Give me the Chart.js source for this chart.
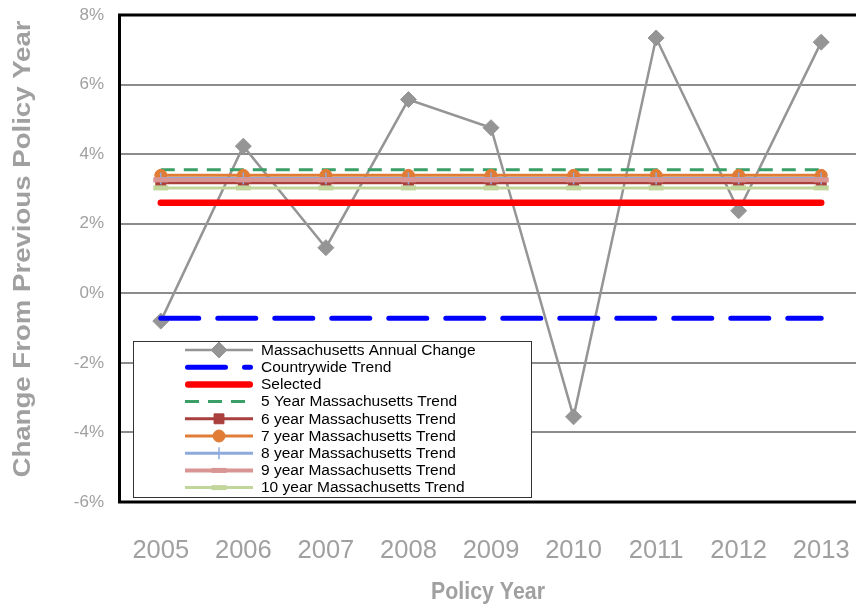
<!DOCTYPE html>
<html>
<head>
<meta charset="utf-8">
<title>Massachusetts Annual Change vs Trends</title>
<script src="https://cdn.jsdelivr.net/npm/chart.js@4.4.1/dist/chart.umd.min.js"></script>
<style>
  html, body { margin: 0; padding: 0; background: #ffffff; overflow: hidden; }
  #wrap { position: relative; width: 856px; height: 607px; overflow: hidden; }
  #chart { position: absolute; left: 0; top: 0; width: 875px; height: 607px; }
</style>
</head>
<body>
<div id="wrap"><canvas id="chart" width="875" height="607"></canvas></div>
<script>
// ---- data (percent change from previous policy year) ----
const policyYears = ['2005', '2006', '2007', '2008', '2009', '2010', '2011', '2012', '2013'];
const annualChange = [-0.80, 4.23, 1.31, 5.57, 4.76, -3.55, 7.34, 2.37, 7.22];

// flat trend rates, one per series
const trendNames = [
  'Countrywide Trend',
  'Selected',
  '5 Year Massachusetts Trend',
  '6 year Massachusetts Trend',
  '7 year Massachusetts Trend',
  '8 year Massachusetts Trend',
  '9 year Massachusetts Trend',
  '10 year Massachusetts Trend'
];
const trendRates = [-0.72, 2.60, 3.55, 3.18, 3.39, 3.30, 3.26, 3.03];

const yTickValues = [-6, -4, -2, 0, 2, 4, 6, 8];

// ---- styles ----
const FONT = "'Liberation Sans', Arial, sans-serif";
const GREY_TEXT = '#a0a0a0';

const trendStyles = [
  { color: '#0000ff', width: 5,   dash: [38, 19], cap: 'round', point: false },
  { color: '#ff0000', width: 6.5, dash: [],       cap: 'round', point: false },
  { color: '#3a9f67', width: 3,   dash: [14, 9],  cap: 'butt',  point: false },
  { color: '#a9403d', width: 3,   dash: [],       cap: 'butt',  point: 'rect',   radius: 7,   pw: 1 },
  { color: '#e07c35', width: 3,   dash: [],       cap: 'butt',  point: 'circle', radius: 6,   pw: 1 },
  { color: '#8eaadc', width: 3,   dash: [],       cap: 'butt',  point: 'cross',  radius: 6,   pw: 1.5 },
  { color: '#d99594', width: 4,   dash: [],       cap: 'butt',  point: 'line',   radius: 7.5, pw: 5 },
  { color: '#c2d69b', width: 3,   dash: [],       cap: 'butt',  point: 'line',   radius: 7.5, pw: 5 }
];

const datasets = [{
  label: 'Massachusetts Annual Change',
  data: annualChange,
  borderColor: '#959595',
  backgroundColor: '#959595',
  borderWidth: 2.5,
  pointStyle: 'rectRot',
  pointRadius: 8,
  pointBorderWidth: 1,
  pointBackgroundColor: '#959595',
  pointBorderColor: '#959595',
  order: 9
}];

trendNames.forEach((name, i) => {
  const s = trendStyles[i];
  datasets.push({
    label: name,
    data: policyYears.map(() => trendRates[i]),
    borderColor: s.color,
    backgroundColor: s.color,
    borderWidth: s.width,
    borderDash: s.dash,
    borderCapStyle: s.cap,
    pointStyle: s.point || 'circle',
    pointRadius: s.point ? s.radius : 0,
    pointBorderWidth: s.point ? s.pw : 0,
    pointBackgroundColor: s.color,
    pointBorderColor: s.color,
    order: 8 - i
  });
});

// frame around the plot area
const framePlugin = {
  id: 'frame',
  afterDatasetsDraw(chart) {
    const { ctx, chartArea: a } = chart;
    ctx.save();
    ctx.strokeStyle = '#000000';
    ctx.lineWidth = 3;
    ctx.strokeRect(a.left, a.top, a.right - a.left, a.bottom - a.top);
    ctx.restore();
  }
};

// axis titles
const titlePlugin = {
  id: 'axisTitles',
  afterDraw(chart) {
    const { ctx } = chart;
    ctx.save();
    ctx.fillStyle = GREY_TEXT;
    ctx.textAlign = 'center';
    ctx.textBaseline = 'middle';
    ctx.font = "bold 24px " + FONT;
    // y title, rotated
    ctx.save();
    ctx.translate(23, 249);
    ctx.rotate(-Math.PI / 2);
    ctx.scale(1.15, 1);
    ctx.fillText('Change From Previous Policy Year', 0, 0);
    ctx.restore();
    // x title
    ctx.save();
    ctx.translate(488, 592);
    ctx.scale(0.89, 1);
    ctx.fillText('Policy Year', 0, 0);
    ctx.restore();
    ctx.restore();
  }
};

// legend box inside the plot
function legendMarker(ctx, ds, x, y) {
  if (!ds.pointRadius) return;
  const opts = { pointStyle: ds.pointStyle, radius: ds.pointRadius, borderWidth: ds.pointBorderWidth, rotation: 0 };
  ctx.fillStyle = ds.pointBackgroundColor;
  ctx.strokeStyle = ds.pointBorderColor;
  ctx.lineWidth = ds.pointBorderWidth;
  ctx.setLineDash([]);
  if (Chart.helpers && Chart.helpers.drawPoint) {
    Chart.helpers.drawPoint(ctx, opts, x, y);
  }
}

const legendPlugin = {
  id: 'innerLegend',
  afterDraw(chart) {
    const { ctx } = chart;
    const box = { x: 133, y: 341, w: 398, h: 156 };
    ctx.save();
    ctx.fillStyle = '#ffffff';
    ctx.fillRect(box.x, box.y, box.w, box.h);
    ctx.strokeStyle = '#333333';
    ctx.lineWidth = 1;
    ctx.strokeRect(box.x + 0.5, box.y + 0.5, box.w, box.h);

    const rowTop = 350, rowStep = 17.2;
    const x0 = 185, x1 = 253, xm = 219, tx = 261;
    chart.data.datasets.forEach((ds, i) => {
      const y = rowTop + i * rowStep;
      ctx.save();
      ctx.strokeStyle = ds.borderColor;
      ctx.lineWidth = ds.borderWidth;
      ctx.setLineDash(ds.borderDash || []);
      ctx.lineCap = ds.borderCapStyle || 'butt';
      const inset = ctx.lineCap === 'round' ? ds.borderWidth / 2 : 0;
      ctx.beginPath();
      ctx.moveTo(x0 + inset, y);
      ctx.lineTo(x1 - inset, y);
      ctx.stroke();
      legendMarker(ctx, ds, xm, y);
      ctx.restore();
      ctx.fillStyle = '#000000';
      ctx.font = "15.5px " + FONT;
      ctx.textAlign = 'left';
      ctx.textBaseline = 'middle';
      ctx.fillText(ds.label, tx, y + 0.5);
    });
    ctx.restore();
  }
};

new Chart(document.getElementById('chart'), {
  type: 'line',
  data: { labels: policyYears, datasets },
  options: {
    responsive: false,
    animation: false,
    events: [],
    layout: { padding: { top: 15, right: 2, left: 0, bottom: 0 } },
    plugins: {
      legend: { display: false },
      tooltip: { enabled: false },
      title: { display: false }
    },
    elements: { line: { tension: 0 } },
    scales: {
      x: {
        type: 'category',
        offset: true,
        grid: { display: false, drawTicks: false },
        border: { display: false },
        ticks: { color: GREY_TEXT, font: { family: FONT, size: 25.5 }, padding: 34, maxRotation: 0, autoSkip: false },
        afterFit(scale) {
          scale.height = 105;
          scale.paddingLeft = 0;
          scale.paddingRight = 0;
        }
      },
      y: {
        min: -6,
        max: 8,
        grid: { color: '#8c8c8c', lineWidth: 2, drawTicks: false },
        border: { display: false },
        afterBuildTicks(scale) { scale.ticks = yTickValues.map(v => ({ value: v })); },
        ticks: {
          color: GREY_TEXT,
          font: { family: FONT, size: 17 },
          padding: 15.5,
          callback: v => v + '%'
        },
        afterFit(scale) {
          scale.width = 119.5;
          scale.paddingTop = 0;
          scale.paddingBottom = 0;
        }
      }
    }
  },
  plugins: [framePlugin, titlePlugin, legendPlugin]
});
</script>
</body>
</html>
